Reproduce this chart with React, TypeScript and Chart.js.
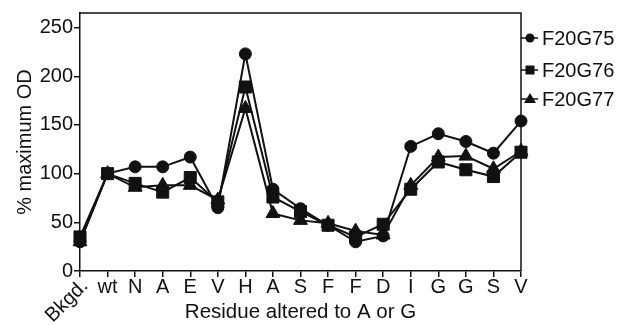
import React, { useEffect, useRef } from 'react';
import { Chart, registerables } from 'chart.js';

Chart.register(...registerables);

const categories = ['Bkgd.', 'wt', 'N', 'A', 'E', 'V', 'H', 'A', 'S', 'F', 'F', 'D', 'I', 'G', 'G', 'S', 'V'];
const f20g75 = [30, 100, 107, 107, 117, 65, 223, 84, 64, 47, 30, 36, 128, 141, 133, 121, 154];
const f20g76 = [35, 100, 90, 81, 96, 71, 189, 76, 61, 47, 35, 48, 84, 112, 104, 97, 122];
const f20g77 = [30, 100, 86, 88, 88, 73, 167, 59, 52, 49, 41, 37, 88, 117, 118, 105, 123];
const seriesNames = ['F20G75', 'F20G76', 'F20G77'];
const yTicks = [0, 50, 100, 150, 200, 250];

const INK = '#111111';
const FONT = '"Liberation Sans", Arial, Helvetica, sans-serif';

const overlay = {
  id: 'overlay',
  beforeDatasetsDraw(chart: any) {
    const { ctx, chartArea } = chart;
    const { left, right, top, bottom } = chartArea;
    ctx.save();
    ctx.strokeStyle = INK;
    ctx.lineWidth = 1.5;
    ctx.beginPath();
    ctx.moveTo(left, top);
    ctx.lineTo(right, top);
    ctx.lineTo(right, bottom);
    ctx.stroke();
    ctx.restore();
  },
  afterDraw(chart: any) {
    const { ctx, chartArea } = chart;
    const { right, bottom } = chartArea;
    const xs = chart.scales.x;
    ctx.save();
    ctx.fillStyle = INK;
    ctx.font = `20px ${FONT}`;
    categories.forEach((c, i) => {
      const px = xs.getPixelForTick(i);
      if (i === 0) {
        ctx.save();
        ctx.translate(px + 5, bottom + 12);
        ctx.rotate(-Math.PI / 4);
        ctx.textAlign = 'right';
        ctx.textBaseline = 'middle';
        ctx.fillText(c, 0, 0);
        ctx.restore();
      } else {
        ctx.textAlign = 'center';
        ctx.textBaseline = 'middle';
        ctx.fillText(c, px, bottom + 16);
      }
    });
    // legend
    const ys = [38, 70, 99];
    const styles = ['circle', 'rect', 'triangle'];
    ctx.strokeStyle = INK;
    ctx.lineWidth = 1.5;
    seriesNames.forEach((name, i) => {
      const y = ys[i];
      const mx = right + 9;
      ctx.beginPath();
      ctx.moveTo(right, y);
      ctx.lineTo(right + 17, y);
      ctx.stroke();
      ctx.beginPath();
      if (styles[i] === 'circle') {
        ctx.arc(mx, y, 4.5, 0, Math.PI * 2);
      } else if (styles[i] === 'rect') {
        ctx.rect(mx - 4.5, y - 4.5, 9, 9);
      } else {
        ctx.moveTo(mx, y - 6);
        ctx.lineTo(mx + 6, y + 4);
        ctx.lineTo(mx - 6, y + 4);
        ctx.closePath();
      }
      ctx.fill();
      ctx.textAlign = 'left';
      ctx.textBaseline = 'middle';
      ctx.font = `20px ${FONT}`;
      ctx.fillText(name, right + 21, y + 1);
    });
    ctx.restore();
  },
};

export default function App() {
  const ref = useRef<HTMLCanvasElement>(null);
  useEffect(() => {
    document.body.style.margin = '0';
    Chart.defaults.font.family = FONT;
    const mk = (label: string, data: number[], style: string, radius: number) => ({
      label,
      data,
      pointStyle: style,
      pointRadius: radius,
      pointHoverRadius: radius,
      borderColor: INK,
      backgroundColor: INK,
      pointBackgroundColor: INK,
      pointBorderColor: INK,
      pointBorderWidth: 1,
      borderWidth: 2,
      tension: 0,
      clip: false,
    });
    const chart = new Chart(ref.current!, {
      type: 'line',
      data: {
        labels: categories,
        datasets: [
          mk(seriesNames[0], f20g75, 'circle', 6),
          mk(seriesNames[1], f20g76, 'rect', 8.5),
          mk(seriesNames[2], f20g77, 'triangle', 8),
        ],
      },
      options: {
        responsive: false,
        animation: false,
        layout: { padding: { top: 10, right: 106, left: 0, bottom: 0 } },
        plugins: { legend: { display: false }, tooltip: { enabled: false } },
        scales: {
          x: {
            type: 'category',
            offset: false,
            afterFit: (s: any) => { s.height = 54; },
            ticks: { color: 'rgba(0,0,0,0)', maxRotation: 0, minRotation: 0, autoSkip: false, font: { size: 17 } },
            grid: { display: true, drawOnChartArea: false, drawTicks: true, tickLength: 6, color: INK, lineWidth: 1.5 },
            border: { display: true, color: INK, width: 1.5 },
            title: { display: true, text: 'Residue altered to A or G', color: INK, font: { size: 20.5 }, padding: { top: 0, bottom: 0 } },
          },
          y: {
            min: 0,
            max: 265,
            afterFit: (s: any) => { s.width = 80; },
            afterBuildTicks: (s: any) => { s.ticks = yTicks.map((v) => ({ value: v })); },
            ticks: { color: INK, font: { size: 20 }, padding: 1 },
            grid: { display: true, drawOnChartArea: false, drawTicks: true, tickLength: 6, color: INK, lineWidth: 1.5 },
            border: { display: true, color: INK, width: 1.5 },
            title: { display: true, text: '% maximum OD', color: INK, font: { size: 20 }, padding: { top: 13, bottom: 0 } },
          },
        },
      },
      plugins: [overlay],
    });
    return () => chart.destroy();
  }, []);
  return (
    <div style={{ width: 627, height: 325 }}>
      <canvas ref={ref} width={627} height={325} />
    </div>
  );
}
